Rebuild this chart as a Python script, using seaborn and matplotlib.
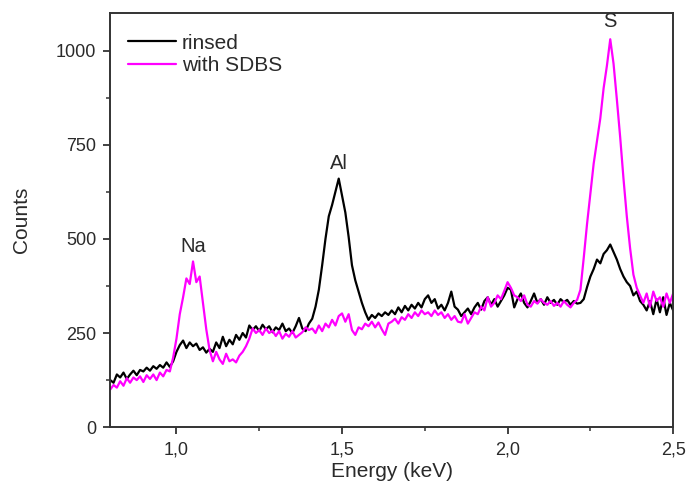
import numpy as np
import pandas as pd
import matplotlib
matplotlib.use("Agg")
import matplotlib.pyplot as plt
from matplotlib.ticker import MultipleLocator, FuncFormatter
import seaborn as sns

# energy channels (keV), 0.01 keV step
energy = np.round(np.arange(0.80, 2.505, 0.01), 2)

rinsed = [
    125, 118, 140, 132, 145, 128, 140, 150, 138, 152,
    148, 158, 150, 162, 155, 165, 158, 172, 160, 175,
    200, 218, 230, 210, 225, 215, 222, 205, 212, 198,
    208, 200, 225, 210, 240, 215, 232, 220, 245, 232,
    250, 238, 270, 258, 268, 255, 272, 260, 268, 252,
    265, 258, 275, 255, 262, 250, 268, 290, 262, 255,
    275, 288, 320, 365, 430, 500, 560, 590, 625, 660,
    615, 570, 505, 430, 390, 360, 330, 305, 285, 298,
    290, 302, 295, 305, 298, 310, 300, 318, 305, 322,
    310, 325, 315, 330, 318, 340, 350, 330, 340, 315,
    325, 310, 330, 360, 320, 312, 295, 305, 315, 300,
    318, 330, 312, 335, 345, 325, 340, 320, 335, 350,
    370, 365, 318, 340, 355, 330, 318, 335, 355, 330,
    340, 325, 345, 330, 338, 325, 340, 332, 338, 325,
    335, 328, 330, 340, 372, 400, 420, 445, 435, 460,
    470, 485, 465, 445, 420, 400, 385, 375, 350, 360,
    335, 325, 310, 335, 300, 340, 305, 345, 298, 330,
    310,
]

with_sdbs = [
    100, 112, 105, 122, 110, 130, 118, 132, 125, 135,
    120, 138, 128, 140, 125, 145, 135, 152, 148, 185,
    235, 300, 345, 395, 380, 440, 385, 400, 330, 260,
    205, 175, 200, 180, 168, 195, 175, 180, 172, 190,
    200, 215, 235, 262, 250, 258, 245, 262, 250, 256,
    242, 255, 235, 248, 240, 255, 238, 245, 252, 265,
    258, 262, 250, 270, 255, 275, 265, 285, 270, 295,
    302, 280, 300, 258, 245, 265, 260, 275, 268, 280,
    265, 278, 260, 245, 275, 280, 288, 275, 292, 285,
    300, 290, 305, 295, 310, 300, 305, 295, 310, 298,
    305, 290, 300, 285, 295, 280, 278, 300, 275, 290,
    305, 300, 320, 310, 345, 320, 330, 350, 340, 362,
    385, 370, 350, 345, 335, 350, 325, 320, 335, 328,
    340, 330, 325, 335, 322, 330, 320, 335, 325, 318,
    330, 338, 365, 450, 540, 620, 700, 760, 820, 900,
    960, 1030, 965, 870, 770, 660, 560, 475, 405, 370,
    350, 330, 355, 320, 360, 335, 345, 320, 355, 330,
    355,
]

series_names = ["rinsed", "with SDBS"]
series_colors = ["#000000", "#ff00ff"]

peak_labels = ["Na", "Al", "S"]
peak_x = [1.05, 1.49, 2.31]
peak_y = [480, 700, 1078]

df = pd.DataFrame({
    "Energy": np.concatenate([energy, energy]),
    "Counts": rinsed + with_sdbs,
    "sample": [series_names[0]] * len(energy) + [series_names[1]] * len(energy),
})

sns.set_style("ticks")
plt.rcParams["font.family"] = ["Liberation Sans", "DejaVu Sans"]

txt = "#2a2a2a"

fig = plt.figure(figsize=(6.89, 4.95), dpi=100)
ax = fig.add_axes([0.160, 0.137, 0.817, 0.837])

sns.lineplot(data=df, x="Energy", y="Counts", hue="sample",
             palette=dict(zip(series_names, series_colors)),
             linewidth=1.6, ax=ax)

ax.set_xlim(0.8, 2.5)
ax.set_ylim(0, 1100)
ax.xaxis.set_major_locator(MultipleLocator(0.5))
ax.xaxis.set_minor_locator(MultipleLocator(0.25))
ax.yaxis.set_major_locator(MultipleLocator(250))
ax.yaxis.set_minor_locator(MultipleLocator(125))
ax.xaxis.set_major_formatter(FuncFormatter(lambda v, p: f"{v:.1f}".replace(".", ",")))

for sp in ax.spines.values():
    sp.set_visible(True)
    sp.set_color("#333333")
    sp.set_linewidth(1.4)
ax.tick_params(which="major", direction="out", length=5, width=1.3,
               color="#333333", labelsize=13, labelcolor=txt, pad=5)
ax.tick_params(which="minor", direction="out", length=3, width=1.1, color="#333333")

ax.set_xlabel("Energy (keV)", fontsize=15, color=txt, labelpad=3)
ax.set_ylabel("Counts", fontsize=15, color=txt, labelpad=18)

for lab, px, py in zip(peak_labels, peak_x, peak_y):
    ax.text(px, py, lab, ha="center", va="center", fontsize=14.5, color=txt)

leg = ax.legend(loc="upper left", frameon=False, fontsize=15, handlelength=2.3,
                handletextpad=0.3, labelspacing=0.15, borderaxespad=0.3,
                bbox_to_anchor=(0.005, 0.985))
for t in leg.get_texts():
    t.set_color(txt)

fig.savefig("out.png", dpi=100)
